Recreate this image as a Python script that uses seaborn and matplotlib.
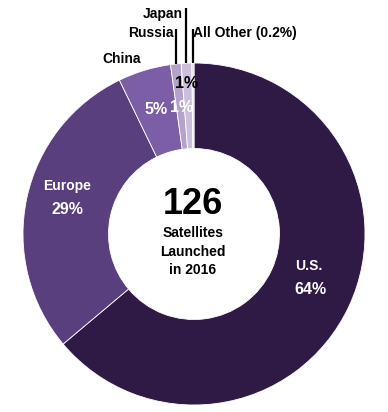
import matplotlib
matplotlib.use("Agg")
import matplotlib.pyplot as plt
import seaborn as sns
import numpy as np
from matplotlib import font_manager

# ---- data ----
countries = ["U.S.", "Europe", "China", "Russia", "Japan", "All Other"]
shares = [64, 29, 5, 1, 1, 0.2]
pct_labels = ["64%", "29%", "5%", "1%", "1%", "0.2%"]
colors = ["#2f1a46", "#5a3f7e", "#7c5ea6", "#b4a2cb", "#cbbfdb", "#e1d9eb"]
total_launched = "126"
center_caption = ["Satellites", "Launched", "in 2016"]

sns.set_theme(style="white")
names = {f.name for f in font_manager.fontManager.ttflist}
fam = ["Liberation Sans Narrow", "Liberation Sans", "DejaVu Sans"]
fam = [f for f in fam if f in names] + ["DejaVu Sans"]
plt.rcParams["font.family"] = fam

fig = plt.figure(figsize=(3.88, 4.12), dpi=100)
W, H = 388, 412
cx, cy, R = 194, 234, 171
ax = fig.add_axes([(cx - R) / W, (H - cy - R) / H, 2 * R / W, 2 * R / H])

palette = sns.color_palette(colors)
wedges, _ = ax.pie(shares, colors=palette, startangle=90, counterclock=False,
                   radius=1, wedgeprops=dict(width=0.5, edgecolor="white", linewidth=0.6))
ax.set_xlim(-1, 1)
ax.set_ylim(-1, 1)
ax.set_aspect("equal")
ax.axis("off")

def P(px, py):
    return (px - cx) / R, (cy - py) / R

bold = dict(fontweight="bold", ha="center", va="center")
lab_fs = 10
pct_fs = 11.5

# inside labels
ax.text(*P(309, 266), countries[0], color="white", fontsize=lab_fs, **bold)
ax.text(*P(310, 290), pct_labels[0], color="white", fontsize=pct_fs, **bold)
ax.text(*P(67, 186), countries[1], color="white", fontsize=lab_fs, **bold)
ax.text(*P(67, 209), pct_labels[1], color="white", fontsize=pct_fs, **bold)
ax.text(*P(156, 109), pct_labels[2], color="white", fontsize=pct_fs, **bold)
ax.text(*P(182, 107), pct_labels[3], color="white", fontsize=pct_fs, **bold)
ax.text(*P(187, 84), pct_labels[4], color="black", fontsize=pct_fs, **bold)

# outside labels
ax.text(*P(122, 59), countries[2], color="black", fontsize=lab_fs, **bold)
ax.text(*P(151, 33), countries[3], color="black", fontsize=lab_fs, **bold)
ax.text(*P(163, 14), countries[4], color="black", fontsize=lab_fs, **bold)
ax.text(*P(245, 33), f"{countries[5]} ({pct_labels[5]})", color="black", fontsize=lab_fs, **bold)

# leader lines from small wedges
tops = {3: 29, 4: 8, 5: 29}
for i, ytop in tops.items():
    w = wedges[i]
    mid = np.deg2rad((w.theta1 + w.theta2) / 2)
    x = np.cos(mid)
    y0 = np.sin(mid)
    ax.plot([x, x], [y0, (cy - ytop) / R], color="black", lw=1.6, clip_on=False,
            solid_capstyle="butt")

# center text
ax.text(*P(193, 204), total_launched, color="black", fontsize=26, **bold)
for py, t in zip([233, 252, 270], center_caption):
    ax.text(*P(193, py), t, color="black", fontsize=lab_fs, **bold)

fig.savefig("out.png", dpi=100, facecolor="white")
